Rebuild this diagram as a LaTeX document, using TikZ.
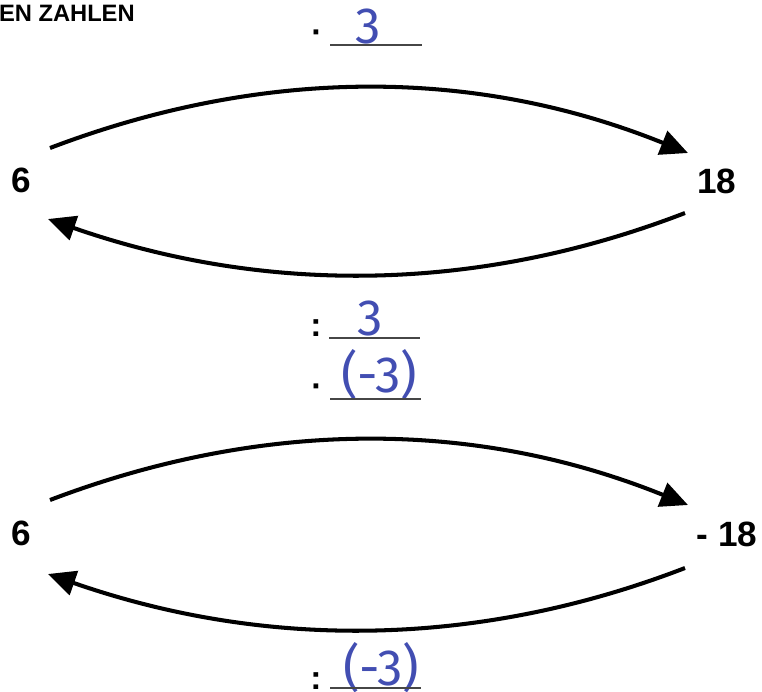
\documentclass[tikz,border=0pt]{standalone}
\usepackage{fontspec}
\setmainfont{Liberation Sans}
\newfontfamily\handfont{Fira Sans}
\usepackage{tikz}
\usetikzlibrary{arrows.meta}

\definecolor{handblue}{RGB}{66,78,178}
\definecolor{blankgray}{RGB}{70,70,70}

\tikzset{
    num/.style={font=\fontsize{20}{23}\selectfont\bfseries},
    opsign/.style={font=\fontsize{19}{22}\selectfont\bfseries, anchor=base},
    hand/.style={text=handblue, font=\handfont\fontsize{29}{32}\selectfont, anchor=base},
    blank/.style={draw=blankgray, line width=0.9pt},
    bow/.style={line width=2.3pt, -{Triangle[length=0.55cm, width=0.5cm]}}
}

\begin{document}
\begin{tikzpicture}[x=0.02cm, y=-0.02cm, inner sep=0pt, outer sep=0pt]
        \useasboundingbox (0,0) rectangle (762,691);

        \node (title) [anchor=base west, font=\fontsize{13.5}{16}\selectfont\bfseries] at (-1,21) {EN ZAHLEN};

        \node (sixA) [num] at (21,180) {6};
        \node (targetA) [num] at (717,181) {18};
        \coordinate (sixA-out) at (50,148);
        \coordinate (targetA-in) at (688,153);
        \coordinate (targetA-out) at (685,213);
        \coordinate (sixA-in) at (48,219);
        \draw[bow] (sixA-out) .. controls (263,67) and (475,67) .. (targetA-in);
        \draw[bow] (targetA-out) .. controls (475,294) and (263,294) .. (sixA-in);

        \node (mulA) [opsign] at (317,43) {·};
        \node (facMulA) [hand] at (368,43) {3};
        \draw[blank] (330,45) -- (422,45);
        \node (divA) [opsign] at (316,336) {:};
        \node (facDivA) [hand] at (370,335) {3};
        \draw[blank] (329,338) -- (420,338);

        \node (sixB) [num] at (21,533) {6};
        \node (targetB) [num] at (727,534) {- 18};
        \coordinate (sixB-out) at (50,500);
        \coordinate (targetB-in) at (688,505);
        \coordinate (targetB-out) at (685,568);
        \coordinate (sixB-in) at (48,574);
        \draw[bow] (sixB-out) .. controls (263,419) and (475,419) .. (targetB-in);
        \draw[bow] (targetB-out) .. controls (475,649) and (263,649) .. (sixB-in);

        \node (mulB) [opsign] at (317,397) {·};
        \node (facMulB) [hand] at (379,392) {(-3)};
        \draw[blank] (330,399) -- (421,399);
        \node (divB) [opsign] at (316,689) {:};
        \node (facDivB) [hand] at (381,685) {(-3)};
        \draw[blank] (330,688) -- (421,688);
    \end{tikzpicture}
\end{document}
